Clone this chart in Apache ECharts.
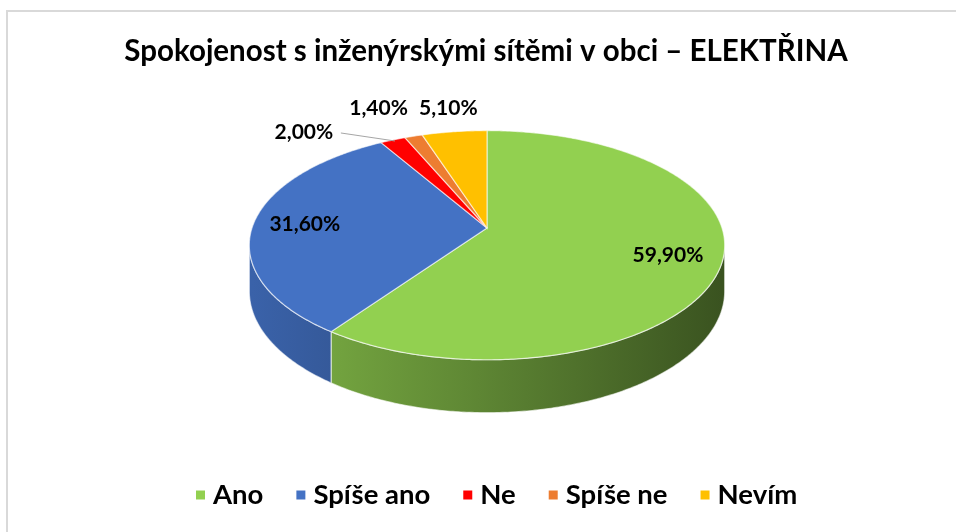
<!DOCTYPE html>
<html>
<head>
<meta charset="utf-8">
<script src="https://cdn.jsdelivr.net/npm/echarts@6/dist/echarts.min.js"></script>
<style>
html,body{margin:0;padding:0;background:#fff;}
#chart{width:956px;height:532px;}
</style>
</head>
<body>
<div id="chart"></div>
<script>
// data
var categories = ['Ano', 'Spíše ano', 'Ne', 'Spíše ne', 'Nevím'];
var values = [59.9, 31.6, 2.0, 1.4, 5.1];

// barvy
var colors = ['#92d050', '#4472c4', '#ff0000', '#ed7d31', '#ffc000'];
var FONT = 'Lato';

// geometrie "3D" kolace (jednoducha perspektiva)
var CX = 487, CY = 228, SX = 235, SY = 112, P = 0.15, H = 45;
// posun popisku malych vysecí vuci okraji (jen layout)
var outsideLabel = {2: [-89, -8, true], 3: [-35, -28], 4: [-6, -23]};

function shade(hex, f) {
	var n = parseInt(hex.slice(1), 16);
	var r = Math.round(((n >> 16) & 255) * f), g = Math.round(((n >> 8) & 255) * f), b = Math.round((n & 255) * f);
	return 'rgb(' + r + ',' + g + ',' + b + ')';
}
// a = uhel po smeru hodin od "vzadu nahore", r = polomer (0..1), h = pokles dolu
function pt(a, r, h) {
	var X = r * Math.sin(a), Z = r * Math.cos(a);
	var f = 1 / (1 + P * Z);
	return [CX + SX * X * f, CY - SY * Z * f + (h || 0) * f];
}
function arc(a0, a1, h) {
	var pts = [], n = Math.max(2, Math.ceil((a1 - a0) / 0.01));
	for (var i = 0; i <= n; i++) pts.push(pt(a0 + (a1 - a0) * i / n, 1, h));
	return pts;
}

var total = values.reduce(function (s, v) { return s + v; }, 0);
var starts = [], acc = 0;
values.forEach(function (v) { starts.push(acc); acc += v; });
var tangent = Math.acos(-P);

function renderItem(params, api) {
	var i = params.dataIndex;
	var v = api.value(0);
	var a0 = starts[i] / total * Math.PI * 2;
	var a1 = a0 + v / total * Math.PI * 2;
	var children = [];
	var edge = 'rgba(255,255,255,0.6)';

	// bocni stena (jen viditelna predni cast)
	var s = Math.max(a0, tangent), e = Math.min(a1, Math.PI * 2 - tangent);
	if (e > s) {
		var side = arc(s, e, 0).concat(arc(s, e, H).reverse());
		children.push({
			type: 'polygon', z2: 1,
			shape: {points: side},
			style: {
				fill: new echarts.graphic.LinearGradient(CX - SX, 0, CX + SX, 0, [
					{offset: 0, color: shade(colors[i], 0.86)},
					{offset: 0.45, color: shade(colors[i], 0.66)},
					{offset: 1, color: shade(colors[i], 0.4)}
				], true),
				stroke: edge, lineWidth: 1.2
			}
		});
	}
	// horni plocha
	children.push({
		type: 'polygon', z2: 10,
		shape: {points: [[CX, CY]].concat(arc(a0, a1, 0))},
		style: {fill: colors[i], stroke: edge, lineWidth: 1.2}
	});

	// popisek
	var txt = v.toFixed(2).replace('.', ',') + '%';
	var mid = (a0 + a1) / 2;
	var lx, ly;
	if (outsideLabel[i]) {
		var p = pt(mid, 1, 0);
		lx = p[0] + outsideLabel[i][0];
		ly = p[1] + outsideLabel[i][1];
		if (outsideLabel[i][2]) {
			children.push({
				type: 'polyline', z2: 15,
				shape: {points: [[lx + 37, ly + 1], [p[0] + 2, p[1] + 1]]},
				style: {stroke: '#a6a6a6', lineWidth: 1}
			});
		}
	} else {
		var q = pt(mid, 0.78, 0);
		lx = q[0];
		ly = q[1];
	}
	children.push({
		type: 'text', z2: 20,
		style: {
			x: lx, y: ly, text: txt, align: 'center', verticalAlign: 'middle',
			fill: '#000', font: 'bold 21px ' + FONT
		}
	});
	return {type: 'group', children: children};
}

var chart = echarts.init(document.getElementById('chart'));
var option = {
	backgroundColor: '#fff',
	animation: false,
	color: colors,
	title: {
		text: 'Spokojenost s inženýrskými sítěmi v obci – ELEKTŘINA',
		left: 481, top: 31, textAlign: 'center',
		textStyle: {fontFamily: FONT, fontWeight: 'bold', fontSize: 29.5, color: '#000'}
	},
	legend: {
		left: 196, top: 481, padding: 0,
		icon: 'rect', itemWidth: 9, itemHeight: 9, itemGap: 33,
		textStyle: {fontFamily: FONT, fontWeight: 'bold', fontSize: 27.5, color: '#000', padding: [0, 0, 0, 3]},
		data: categories
	},
	graphic: [{
		type: 'rect', silent: true,
		shape: {x: 7, y: 11, width: 980, height: 560},
		style: {fill: 'none', stroke: '#d9d9d9', lineWidth: 2}
	}],
	series: [
		{
			// jen kvuli legende
			type: 'pie', radius: [0, 0], silent: true,
			label: {show: false}, labelLine: {show: false},
			data: categories.map(function (c, i) { return {name: c, value: values[i]}; })
		},
		{
			type: 'custom', coordinateSystem: 'none',
			renderItem: renderItem,
			data: categories.map(function (c, i) { return {name: c, value: [values[i]]}; })
		}
	]
};
chart.setOption(option);
</script>
</body>
</html>
